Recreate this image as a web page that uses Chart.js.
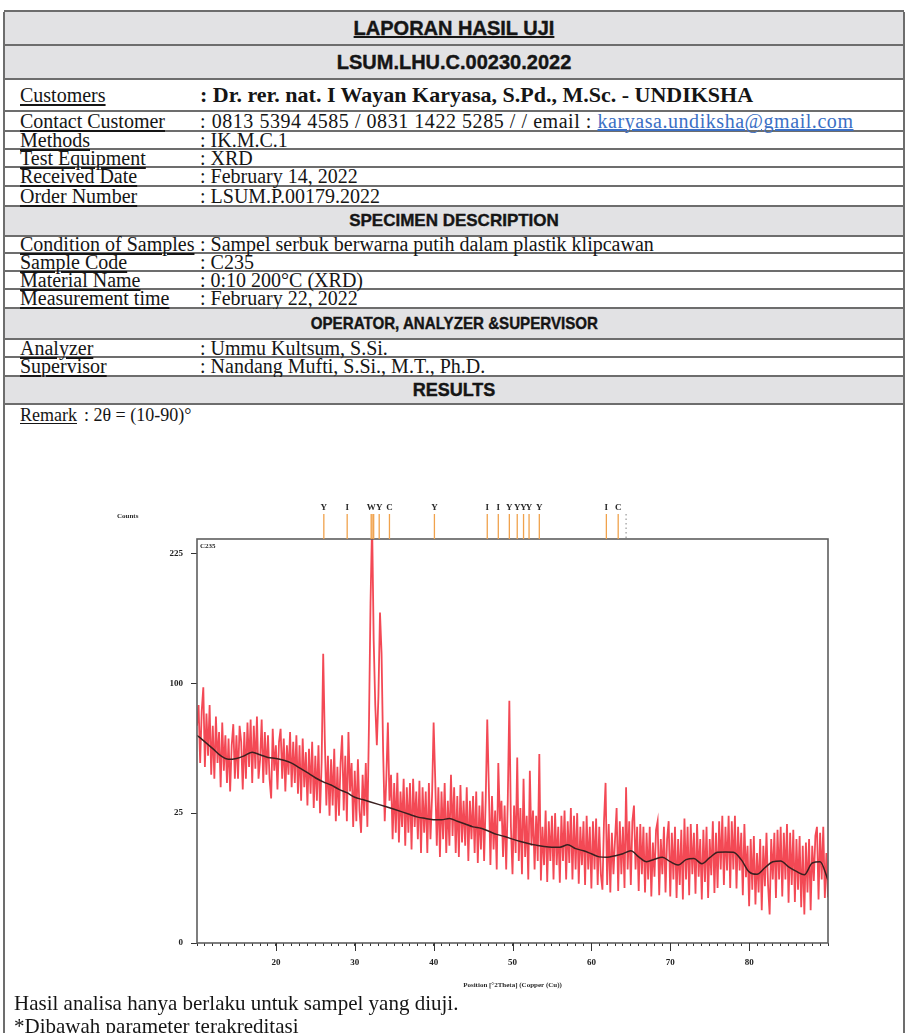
<!DOCTYPE html>
<html>
<head>
<meta charset="utf-8">
<script src="https://cdn.jsdelivr.net/npm/chart.js@4.4.1/dist/chart.umd.min.js"></script>
<style>
  body { margin: 0; width: 908px; height: 1033px; overflow: hidden; position: relative; background: #fff;
         font-family: "Liberation Serif", "Times New Roman", serif; color: #151515; }
  .vline { position: absolute; top: 12px; width: 2px; height: 1030px; background: #6d6d6d; }
  .row { position: absolute; left: 4px; width: 900px; box-sizing: border-box; border-bottom: 2px solid #6d6d6d;
         display: flex; align-items: center; font-size: 20px; white-space: nowrap; }
  .head { background: #e2e2e4; justify-content: center; font-family: "Liberation Sans", Arial, sans-serif;
          font-weight: bold; font-size: 17px; -webkit-text-stroke: 0.4px #151515; }
  .head span { display: inline-block; }
  .lab { position: absolute; left: 16px; text-decoration: underline; text-underline-offset: 2px; }
  .val { position: absolute; left: 196px; }
  .note { position: absolute; left: 14px; font-size: 21px; white-space: nowrap; }
  a { color: #3b6fc4; }
  #xrd { position: absolute; left: 100px; top: 490px; }
</style>
</head>
<body>
<div class="row" style="top:10px;height:2px"></div>
<div class="row head" style="top:12px;height:34px;font-size:20px"><span style="text-decoration:underline">LAPORAN HASIL UJI</span></div>
<div class="row head" style="top:46px;height:34px;font-size:20px">LSUM.LHU.C.00230.2022</div>
<div class="row" style="top:80px;height:32px"><span class="lab">Customers</span><span class="val" style="font-weight:bold;font-size:22px">: Dr. rer. nat. I Wayan Karyasa, S.Pd., M.Sc. - UNDIKSHA</span></div>
<div class="row" style="top:112px;height:20px"><span class="lab">Contact Customer</span><span class="val" style="letter-spacing:0.55px">: 0813 5394 4585 / 0831 1422 5285 / / email : <a href="#">karyasa.undiksha@gmail.com</a></span></div>
<div class="row" style="top:132px;height:18px"><span class="lab">Methods</span><span class="val">: IK.M.C.1</span></div>
<div class="row" style="top:150px;height:18px"><span class="lab">Test Equipment</span><span class="val">: XRD</span></div>
<div class="row" style="top:168px;height:19px"><span class="lab">Received Date</span><span class="val">: February 14, 2022</span></div>
<div class="row" style="top:187px;height:20px"><span class="lab">Order Number</span><span class="val">: LSUM.P.00179.2022</span></div>
<div class="row head" style="top:207px;height:30px">SPECIMEN DESCRIPTION</div>
<div class="row" style="top:237px;height:17px"><span class="lab">Condition of Samples</span><span class="val">: Sampel serbuk berwarna putih dalam plastik klipcawan</span></div>
<div class="row" style="top:254px;height:18px"><span class="lab">Sample Code</span><span class="val">: C235</span></div>
<div class="row" style="top:272px;height:18px"><span class="lab">Material Name</span><span class="val">: 0:10 200°C (XRD)</span></div>
<div class="row" style="top:290px;height:19px"><span class="lab">Measurement time</span><span class="val">: February 22, 2022</span></div>
<div class="row head" style="top:309px;height:31px"><span style="transform:scaleX(0.89)">OPERATOR, ANALYZER &amp;SUPERVISOR</span></div>
<div class="row" style="top:340px;height:18px"><span class="lab">Analyzer</span><span class="val">: Ummu Kultsum, S.Si.</span></div>
<div class="row" style="top:358px;height:19px"><span class="lab">Supervisor</span><span class="val">: Nandang Mufti, S.Si., M.T., Ph.D.</span></div>
<div class="row head" style="top:377px;height:28px;font-size:18px">RESULTS</div>
<div class="row" style="top:405px;height:20px;border-bottom:none;font-size:18px"><span class="lab">Remark</span><span style="position:absolute;left:80px">: 2θ = (10-90)°</span></div>
<div class="vline" style="left:3px"></div>
<div class="vline" style="left:903px"></div>

<canvas id="xrd" width="760" height="510"></canvas>

<div class="note" style="top:991px">Hasil analisa hanya berlaku untuk sampel yang diuji.</div>
<div class="note" style="top:1014px">*Dibawah parameter terakreditasi</div>

<script>
// scan: 2theta 10..90, step 0.2 deg, counts
const scanStart = 10;
const scanStep = 0.2;
const scanCounts = [
  70, 84, 48, 80, 97,   46, 78, 52, 84, 42,   70, 40, 76, 48, 66,   36, 72, 44, 64, 38,
  62, 34, 58, 71, 40,   64, 40, 70, 60, 35,   66, 40, 72, 46, 74,   38, 70, 45, 76, 40,
  50, 74, 38, 66, 42,   64, 40, 31, 68, 44,
  58, 35, 60, 68, 40,   62, 34, 58, 42, 66,   36, 60, 38, 64, 33,   58, 30, 62, 36, 54,
  28, 56, 33, 60, 27,   52, 30, 58, 25, 48,   124, 62, 28, 52, 24,  50, 28, 56, 22, 46,
  24, 48, 64, 26, 52,   22, 66, 34, 48, 20,
  44, 22, 50, 26, 18,   42, 24, 48, 20, 70,   172, 262, 136, 84, 58,  90, 162, 124, 54, 22,
  40, 72, 30, 42, 16,   38, 18, 43, 15, 34,   20, 40, 14, 36, 18,   38, 13, 40, 20, 34,
  16, 39, 12, 36, 18,   34, 12, 38, 16, 32,
  72, 40, 14, 36, 11,   34, 16, 38, 12, 30,   14, 42, 17, 36, 12,   32, 11, 37, 15, 30,
  14, 36, 10, 30, 16,   32, 12, 34, 9.5, 28,  13, 34, 10, 30, 74,   36, 9, 32, 13, 26,
  8, 48, 22, 30, 11,    28, 8, 30, 87, 20,
  7, 28, 12, 51, 10,    27, 7, 40, 11, 24,    6, 44, 14, 26, 8,     24, 10, 53, 5.8, 20,
  9, 26, 5.5, 22, 10,   24, 6, 25, 9, 20,     5.4, 24, 10, 26, 6,   22, 9.5, 27, 6, 24,
  8, 25, 5.2, 20, 9,    22, 5, 24, 8, 20,
  4.4, 22, 8, 23, 5,    20, 7, 4.2, 22, 38,   5, 21, 3.8, 18, 7,    16, 27, 4, 22, 7,
  20, 4.5, 36, 8, 22,   5, 22, 28, 8, 20,     4, 21, 7, 20, 3.8,    18, 6, 20, 3.2, 15,
  6.5, 19, 22, 3.4, 16, 7, 20, 3.8, 16, 22,
  3.2, 18, 6, 20, 3,    16, 5, 19, 2.8, 23,   6, 20, 3.4, 21, 7,    18, 3.6, 21, 6.5, 16,
  2.8, 19, 5.5, 20, 3,  16, 6.8, 22, 3.7, 18, 4.5, 22, 8, 24, 5,    20, 7.8, 24, 4.5, 22,
  8, 24, 4.4, 20, 7.8,  18, 3.4, 21, 6.4, 14,
  2, 16, 4.2, 17, 2.2,  12, 3.8, 16, 1.6, 14, 4.8, 18, 5, 1.2, 16,  6, 18, 3, 19, 6,
  20, 3.2, 18, 6, 21,   2.4, 18, 5, 19, 2.5,  16, 4.2, 17, 1.9, 14,  1.2, 15, 3.8, 16, 1.6,
  14, 5.7, 17, 20, 2.8, 18, 6, 20, 3, 12,
  3.1
];

// fitted background, one value per degree from 10 to 90
const bgCounts = [
  64, 60, 56, 52, 50, 50.5, 52, 54, 52.5, 51,
  50.5, 49.5, 48, 45.5, 43, 40.5, 38.5, 37, 35, 33.5,
  31.5, 30.5, 29.5, 28.5, 27.5, 26.5, 25.5, 24.5, 23.5, 23,
  22.5, 22.5, 23, 22, 21, 20, 19.5, 18.5, 17.5, 16.8,
  16, 15.3, 14.7, 14.2, 13.8, 13.6, 13.6, 14.3, 13.2, 12.6,
  11.8, 11, 10.9, 11.3, 11.8, 12.6, 11, 9.8, 10.4, 10.9,
  9.8, 9, 10.3, 10.6, 9.3, 10.8, 12.2, 12.3, 12.2, 10.3,
  7.5, 7, 8.4, 9.8, 10, 8.6, 7.6, 6.9, 9.5, 9.8,
  5.9
];

// reference pattern stick positions (2theta) and their phase letters
const refPeaks  = [26.08, 29.04, 32.08, 32.2, 32.4, 33.1, 34.4, 40.1, 46.8, 48.2, 49.6, 50.6, 51.4, 52.1, 53.4, 61.9, 63.4];
const refLabels = ['Y', 'I', 'W', '', '', 'Y', 'C', 'Y', 'I', 'I', 'Y', 'Y', 'Y', 'Y', 'Y', 'I', 'C'];
const dottedRefs = [64.4];

const xMajor = [20, 30, 40, 50, 60, 70, 80];
const yTicks = [0, 25, 100, 225];

// square-root count axis, as the diffractometer software draws it
class SqrtScale extends Chart.LinearScale {
  buildTicks() {
    return yTicks.map(v => ({ value: v }));
  }
  getPixelForValue(value) {
    const lo = Math.sqrt(this.min), hi = Math.sqrt(this.max);
    return this.getPixelForDecimal((Math.sqrt(Math.max(value, 0)) - lo) / (hi - lo));
  }
  getValueForPixel(pixel) {
    const lo = Math.sqrt(this.min), hi = Math.sqrt(this.max);
    const s = lo + this.getDecimalForPixel(pixel) * (hi - lo);
    return s * s;
  }
}
SqrtScale.id = 'sqrt';
SqrtScale.defaults = {};
Chart.register(SqrtScale);

const scanPoints = scanCounts.map((c, i) => ({ x: scanStart + i * scanStep, y: c }));
const bgPoints = bgCounts.map((c, i) => ({ x: scanStart + i, y: c }));

const tickFont = { family: '"Liberation Serif", serif', size: 9, weight: 'bold' };

const decorPlugin = {
  id: 'decor',
  afterDraw(chart) {
    const ctx = chart.ctx;
    const area = chart.chartArea;
    const xs = chart.scales.x;
    ctx.save();

    // frame
    ctx.strokeStyle = '#5e5e5e';
    ctx.lineWidth = 1.6;
    ctx.strokeRect(area.left, area.top, area.right - area.left, area.bottom - area.top);

    // longer ticks at the labelled positions
    ctx.strokeStyle = '#333';
    ctx.lineWidth = 1;
    xMajor.forEach(v => {
      const px = Math.round(xs.getPixelForValue(v)) + 0.5;
      ctx.beginPath();
      ctx.moveTo(px, area.bottom);
      ctx.lineTo(px, area.bottom + 8);
      ctx.stroke();
    });

    // reference sticks above the plot
    ctx.strokeStyle = '#f0a24c';
    ctx.lineWidth = 1.3;
    refPeaks.forEach(p => {
      const px = xs.getPixelForValue(p);
      ctx.beginPath();
      ctx.moveTo(px, area.top - 25);
      ctx.lineTo(px, area.top);
      ctx.stroke();
    });
    ctx.strokeStyle = '#a0a0a0';
    ctx.setLineDash([1.5, 3]);
    dottedRefs.forEach(p => {
      const px = xs.getPixelForValue(p);
      ctx.beginPath();
      ctx.moveTo(px, area.top - 25);
      ctx.lineTo(px, area.top);
      ctx.stroke();
    });
    ctx.setLineDash([]);

    ctx.fillStyle = '#2a2a2a';
    ctx.font = 'bold 9px "Liberation Serif", serif';
    ctx.textAlign = 'center';
    ctx.textBaseline = 'middle';
    refPeaks.forEach((p, i) => {
      if (refLabels[i]) ctx.fillText(refLabels[i], xs.getPixelForValue(p), area.top - 31);
    });

    // axis captions
    ctx.font = 'bold 7px "Liberation Serif", serif';
    ctx.textAlign = 'left';
    ctx.fillText('Counts', 17, 26);
    ctx.fillText('C235', area.left + 3, area.top + 7);
    ctx.textAlign = 'center';
    ctx.fillText('Position [°2Theta] (Copper (Cu))', (area.left + area.right) / 2, 495);
    ctx.restore();
  }
};

new Chart(document.getElementById('xrd'), {
  type: 'line',
  data: {
    datasets: [
      {
        data: bgPoints,
        borderColor: '#3a2020',
        borderWidth: 1.5,
        pointRadius: 0,
        tension: 0.4,
        cubicInterpolationMode: 'monotone',
      },
      {
        data: scanPoints,
        borderColor: 'rgba(242, 58, 70, 0.92)',
        borderWidth: 1.8,
        pointRadius: 0,
        tension: 0,
      },
    ]
  },
  options: {
    responsive: false,
    animation: false,
    devicePixelRatio: 1,
    layout: { padding: { top: 49, right: 32, left: 0, bottom: 0 } },
    plugins: { legend: { display: false }, tooltip: { enabled: false } },
    scales: {
      x: {
        type: 'linear',
        min: 10,
        max: 90,
        afterFit: scale => { scale.height = 57; },
        grid: { drawOnChartArea: false, tickLength: 3, color: '#333' },
        border: { display: false },
        ticks: {
          stepSize: 1,
          autoSkip: false,
          maxRotation: 0,
          padding: 11,
          color: '#222',
          font: tickFont,
          callback: v => (xMajor.includes(v) ? String(v) : ''),
        },
      },
      y: {
        type: 'sqrt',
        min: 0,
        max: 242,
        afterFit: scale => { scale.width = 97; },
        grid: { drawOnChartArea: false, tickLength: 6, color: '#333' },
        border: { display: false },
        ticks: { padding: 8, color: '#222', font: tickFont, callback: v => String(v) },
      },
    }
  },
  plugins: [decorPlugin]
});
</script>
</body>
</html>
